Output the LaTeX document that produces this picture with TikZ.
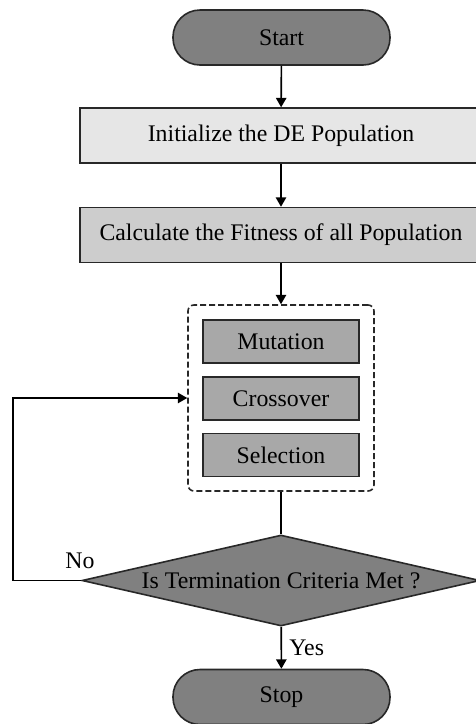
\documentclass[tikz,border=0pt]{standalone}
\usepackage{fontspec}
\setmainfont{Liberation Serif}
\usetikzlibrary{arrows,shapes.geometric}

\definecolor{linegray}{RGB}{40,40,40}
\definecolor{termgray}{RGB}{128,128,128}
\definecolor{initgray}{RGB}{230,230,230}
\definecolor{calcgray}{RGB}{205,205,205}
\definecolor{opgray}{RGB}{168,168,168}

\begin{document}
\begin{tikzpicture}[x=1pt,y=-1pt,>=triangle 60,line width=1.6pt,
    font=\fontsize{23.8}{28}\selectfont,text=black]
  \tikzstyle{terminal}=[rectangle,rounded corners=27pt,draw=linegray,fill=termgray,
    minimum width=217pt,minimum height=55pt,inner sep=0pt]
  \tikzstyle{process}=[rectangle,draw=linegray,minimum width=402pt,minimum height=55pt,inner sep=0pt]
  \tikzstyle{operator}=[rectangle,draw=linegray,fill=opgray,minimum width=156pt,minimum height=43pt,inner sep=0pt]
  \tikzstyle{decision}=[diamond,draw=linegray,fill=termgray,aspect=4.4,inner sep=0pt,
    minimum width=398pt,minimum height=91pt]

  \useasboundingbox (0,0) rectangle (476,724);

  \node[terminal] (start) at (281.5,37.5) {Start};
  \node[process,fill=initgray] (init) at (281,135.5) {Initialize the DE Population};
  \node[process,fill=calcgray] (calc) at (281,235) {Calculate the Fitness of all Population};

  \node[draw=linegray,dash pattern=on 6pt off 3pt,rounded corners=6pt,minimum width=186pt,minimum height=186pt] (ops) at (281,398) {};
  \node[operator] (mut) at (281,341.5) {Mutation};
  \node[operator] (cross) at (281,398.5) {Crossover};
  \node[operator] (sel) at (281,455) {Selection};

  \node[decision] (crit) at (281,580.5) {Is Termination Criteria Met ?};
  \node[terminal] (stop) at (281.5,697) {Stop};

  \coordinate (loop) at (13,580.5);

  \draw[->] (start) -- (init);
  \draw[->] (init) -- (calc);
  \draw[->] (calc) -- (ops);
  \draw (ops) -- (crit);
  \draw[->] (crit) -- node[right=4pt] {Yes} (stop);
  \draw[->] (crit.west) -- (loop) |- (ops.west);
  \node (no) at (80,561) {No};
\end{tikzpicture}
\end{document}
